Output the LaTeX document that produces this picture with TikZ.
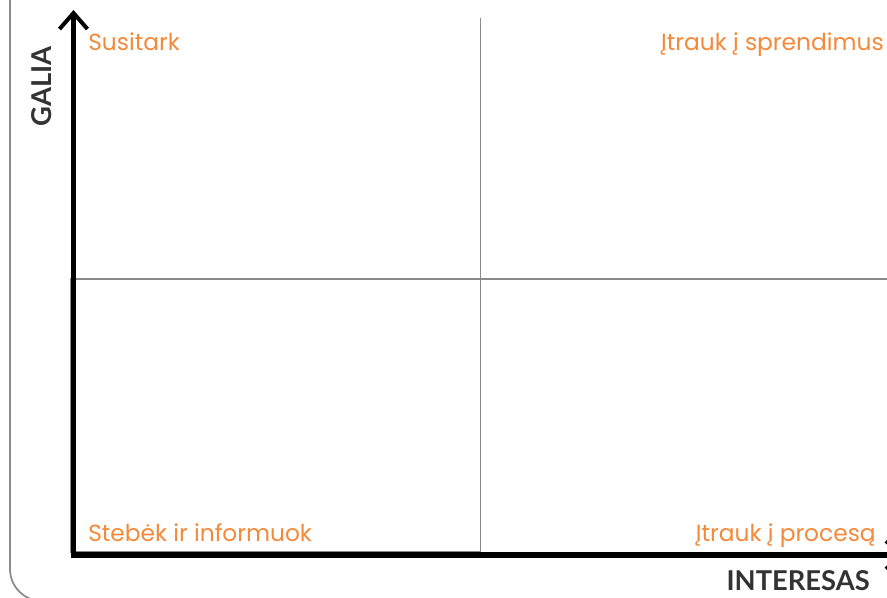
\documentclass[tikz,border=0pt]{standalone}
\usepackage{fontspec}
\setmainfont{Lato}
\newfontfamily\quadfont{Poppins}
\usetikzlibrary{arrows.meta}
\definecolor{orng}{HTML}{F5893A}
\definecolor{gridgray}{HTML}{8A8A8A}
\definecolor{dark}{HTML}{333333}
\tikzset{
  lbl/.style={text=orng, font=\quadfont\fontsize{17.5}{21}\selectfont, inner sep=0pt},
  axislbl/.style={text=dark, font=\bfseries\fontsize{20.5}{24}\selectfont, inner sep=0pt},
  gridline/.style={draw=gridgray, line width=1.1pt},
  axis/.style={draw=black, line width=3.8pt, -{Straight Barb[length=12pt,width=21pt,line width=3pt]}},
  frame/.style={draw=gridgray, line width=1.3pt, rounded corners=24pt}
}
\begin{document}
\begin{tikzpicture}[x=0.75pt,y=-0.75pt]
\useasboundingbox (0,0) rectangle (887,597);
\clip (0,0) rectangle (887,597);
% outer rounded frame
\draw[frame] (10,-40) rectangle (940,601);
% grid
\draw[gridline] (70,279) -- (900,279);
\draw[gridline] (480.5,18) -- (480.5,552);
\draw[gridline] (70.5,279) -- (70.5,552) -- (480,552);
% axes
\coordinate (ystart) at (73.5,557.5);
\coordinate (ytip) at (73.5,10);
\coordinate (xtip) at (905,555);
\coordinate (xstart) at (71,555);
\draw[axis] (ystart) -- (ytip);
\draw[axis] (xstart) -- (xtip);
% labels
\node[lbl, anchor=base west] (tl) at (88,50) {Susitark};
\node[lbl, anchor=base east] (tr) at (884,50) {Įtrauk į sprendimus};
\node[lbl, anchor=base west] (bl) at (88,541) {Stebėk ir informuok};
\node[lbl, anchor=base east] (br) at (876,541) {Įtrauk į procesą};
\node[axislbl, anchor=base east] (xl) at (870,590) {INTERESAS};
\node[axislbl, rotate=90, anchor=base] (yl) at (51.5,86.5) {GALIA};
\end{tikzpicture}
\end{document}
